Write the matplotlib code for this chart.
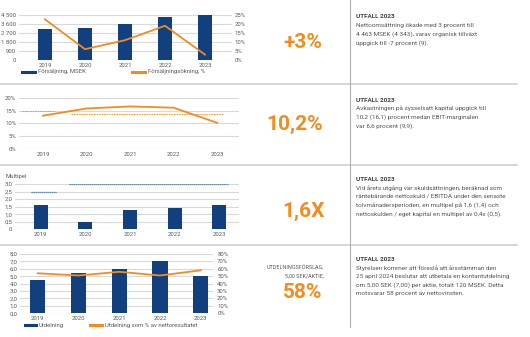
import matplotlib.pyplot as plt
import matplotlib.ticker as mticker

plt.rcParams["font.family"] = ["Roboto", "DejaVu Sans"]

# data
years = ["2019", "2020", "2021", "2022", "2023"]
sales = [3070, 3250, 3610, 4343, 4463]
sales_growth = [22.6, 6.0, 11.0, 19.0, 3.0]
roce = [13.0, 15.8, 16.6, 16.1, 10.2]
roce_targets = [15.0, 13.5]
debt_multiple = [1.6, 0.5, 1.3, 1.4, 1.6]
debt_targets = [2.5, 3.0]
dividend = [4.5, 5.5, 6.0, 7.0, 5.0]
payout = [54, 51, 56, 51, 58]

BLUE = "#123f7d"
ORANGE = "#f28c1e"
GRID = "#d9d9d9"
TICK = "#595959"
TXT = "#555555"

W, H = 530, 337
fig = plt.figure(figsize=(W / 100, H / 100), dpi=100)


def rect(x0, y0, x1, y1):
    return [x0 / W, 1 - y1 / H, (x1 - x0) / W, (y1 - y0) / H]


def fx(x):
    return x / W


def fy(y):
    return 1 - y / H


def style(ax, xlim):
    ax.set_xlim(*xlim)
    for s in ax.spines.values():
        s.set_visible(False)
    ax.grid(axis="y", color=GRID, lw=0.8)
    ax.set_axisbelow(True)
    ax.tick_params(length=0, labelsize=4.3, labelcolor=TICK, pad=2)
    ax.set_xticks(range(len(years)))
    ax.set_xticklabels(years)


x = range(len(years))

# panel 1: sales
ax1 = fig.add_axes(rect(19, 15, 232, 60))
ax1.bar(x, sales, width=0.35, color=BLUE)
style(ax1, (-0.65, 4.675))
ax1.set_ylim(0, 4500)
ax1.set_yticks(range(0, 4501, 900))
ax1.yaxis.set_major_formatter(mticker.FuncFormatter(lambda v, p: f"{int(v):,}".replace(",", " ")))
ax1b = ax1.twinx()
ax1b.plot(x, sales_growth, color=ORANGE, lw=1.3)
ax1b.set_ylim(0, 25)
ax1b.set_yticks(range(0, 26, 5))
ax1b.yaxis.set_major_formatter(mticker.FuncFormatter(lambda v, p: f"{int(v)}%"))
for s in ax1b.spines.values():
    s.set_visible(False)
ax1b.tick_params(length=0, labelsize=4.3, labelcolor=TICK, pad=2)

# panel 2: ROCE
ax2 = fig.add_axes(rect(19, 97.7, 239, 149))
ax2.plot(x, roce, color=ORANGE, lw=1.3, zorder=3)
ax2.hlines(roce_targets[0], -0.48, 0.28, color=ORANGE, lw=0.6, ls=(0, (2, 1)))
ax2.hlines(roce_targets[1], 0.645, 4.14, color=ORANGE, lw=0.6, ls=(0, (2, 1)))
style(ax2, (-0.55, 4.5))
ax2.set_ylim(0, 20)
ax2.set_yticks(range(0, 21, 5))
ax2.yaxis.set_major_formatter(mticker.FuncFormatter(lambda v, p: f"{int(v)}%"))

# panel 3: debt multiple
ax3 = fig.add_axes(rect(15, 184, 239, 229.3))
ax3.bar(x, debt_multiple, width=0.32, color=BLUE)
ax3.hlines(debt_targets[0], -0.22, 0.34, color="#4a72b0", lw=0.9, ls=(0, (1, 0.6)))
ax3.hlines(debt_targets[1], 0.63, 4.19, color="#4a72b0", lw=0.9, ls=(0, (1, 0.6)))
style(ax3, (-0.575, 4.44))
ax3.set_ylim(0, 3)
ax3.set_yticks([0, 0.5, 1, 1.5, 2, 2.5, 3])
ax3.yaxis.set_major_formatter(mticker.FuncFormatter(lambda v, p: f"{v:.1f}".replace(".", ",").replace("0,0", "0")))
fig.text(fx(5), fy(176), "Multipel", fontsize=4.3, color=TICK, va="center")

# panel 4: dividend
ax4 = fig.add_axes(rect(20, 254, 213, 313.3))
ax4.bar(x, dividend, width=0.37, color=BLUE)
style(ax4, (-0.435, 4.3))
ax4.set_ylim(0, 8)
ax4.set_yticks(range(0, 9))
ax4.yaxis.set_major_formatter(mticker.FuncFormatter(lambda v, p: f"{v:.1f}".replace(".", ",")))
ax4b = ax4.twinx()
ax4b.plot(x, payout, color=ORANGE, lw=1.3)
ax4b.set_ylim(0, 80)
ax4b.set_yticks(range(0, 81, 10))
ax4b.yaxis.set_major_formatter(mticker.FuncFormatter(lambda v, p: f"{int(v)}%"))
for s in ax4b.spines.values():
    s.set_visible(False)
ax4b.tick_params(length=0, labelsize=4.3, labelcolor=TICK, pad=3)


# legends drawn as swatch + text
def swatch(x0, x1, y, color, label):
    fig.add_artist(plt.Line2D([fx(x0), fx(x1)], [fy(y), fy(y)], color=color, lw=2.2))
    fig.text(fx(x1 + 3), fy(y), label, fontsize=4.3, color=TICK, va="center")


swatch(22, 35, 72, BLUE, "Försäljning, MSEK")
swatch(132, 145, 72, ORANGE, "Försäljningsökning, %")
swatch(25, 36, 325, BLUE, "Utdelning")
swatch(90, 102, 325, ORANGE, "Utdelning som % av nettoresultatet")

# separators
for yy in [83.5, 165, 245]:
    fig.add_artist(plt.Line2D([0, fx(517)], [fy(yy), fy(yy)], color="#d0d0d0", lw=1.2))
fig.add_artist(plt.Line2D([fx(349.5), fx(349.5)], [fy(0), fy(327)], color="#b0b0b0", lw=0.8))

# big numbers
big = dict(fontsize=15, color=ORANGE, fontweight="bold", ha="center", va="center")
fig.text(fx(303), fy(42), "+3%", **big)
fig.text(fx(295), fy(124), "10,2%", **big)
fig.text(fx(303), fy(211), "1,6X", **big)
fig.text(fx(303), fy(292), "58%", **big)
fig.text(fx(324), fy(268), "UTDELNINGSFÖRSLAG,", fontsize=3.9, color=TXT, ha="right", va="center")
fig.text(fx(324), fy(276), "5,00 SEK/AKTIE,", fontsize=3.9, color=TXT, ha="right", va="center")

# commentary
texts = [
    (17, ["Nettoomsättning ökade med 3 procent till",
          "4 463 MSEK (4 343), varav organisk tillväxt",
          "uppgick till -7 procent (9)."]),
    (100, ["Avkastningen på sysselsatt kapital uppgick till",
           "10,2 (16,1) procent medan EBIT-marginalen",
           "var 6,6 procent (9,9)."]),
    (179.3, ["Vid årets utgång var skuldsättningen, beräknad som",
             "räntebärande nettoskuld / EBITDA under den senaste",
             "tolvmånadersperioden, en multipel på 1,6 (1,4) och",
             "nettoskulden / eget kapital en multipel av 0,4x (0,5)."]),
    (259.3, ["Styrelsen kommer att föreslå att årsstämman den",
             "25 april 2024 beslutar att utbetala en kontantutdelning",
             "om 5,00 SEK (7,00) per aktie, totalt 120 MSEK. Detta",
             "motsvarar 58 procent av nettovinsten."]),
]
for y0, lines in texts:
    fig.text(fx(356), fy(y0), "UTFALL 2023", fontsize=4.6, color="#404040",
             fontweight="bold", va="center")
    for i, line in enumerate(lines):
        fig.text(fx(356), fy(y0 + 8.6 * (i + 1)), line, fontsize=4.6, color=TXT, va="center")

fig.savefig("out.png", dpi=100)
